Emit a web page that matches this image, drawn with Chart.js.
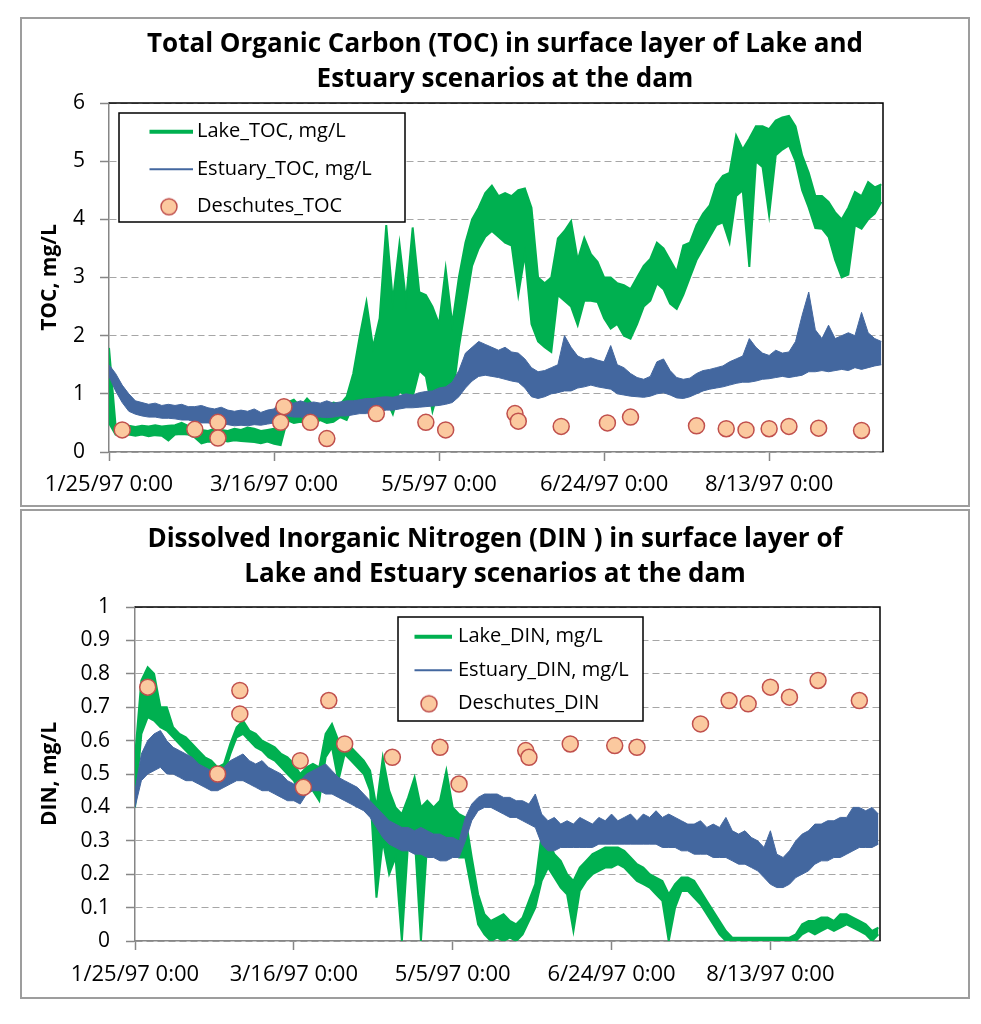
<!DOCTYPE html>
<html>
<head>
<meta charset="utf-8">
<title>TOC and DIN at the dam</title>
<script src="https://cdn.jsdelivr.net/npm/chart.js@4.4.1/dist/chart.umd.min.js"></script>
<style>
  body { margin: 0; background: #fff; }
  .frame { position: absolute; left: 20px; width: 950px; height: 490px; box-sizing: border-box; border: 2px solid #9d9d9d; }
  canvas { display: block; }
</style>
</head>
<body>
<div class="frame" style="top:17px"><canvas id="tocChart" width="946" height="486"></canvas></div>
<div class="frame" style="top:509px"><canvas id="dinChart" width="946" height="486"></canvas></div>
<script>
// model output every 2 days, day 0 = 1/25/97 0:00
// each model series is kept as a low / high envelope of the tidal noise
const stepDays = 2;
const lastDay = 234.5;
const tickDays = [0, 50, 100, 150, 200];
const tickLabels = ['1/25/97 0:00', '3/16/97 0:00', '5/5/97 0:00', '6/24/97 0:00', '8/13/97 0:00'];

// --- TOC, mg/L ---
const lakeTocLo = [
  0.50, 0.30, 0.28, 0.30, 0.28, 0.30, 0.27, 0.29, 0.28, 0.20,
  0.30, 0.31, 0.30, 0.25, 0.15, 0.18, 0.17, 0.20, 0.18, 0.20,
  0.19, 0.18, 0.17, 0.15, 0.18, 0.14, 0.12, 0.55, 0.50, 0.52,
  0.50, 0.48, 0.55, 0.50, 0.52, 0.60, 0.55, 0.80, 0.85, 0.85,
  0.60, 0.75, 0.90, 0.65, 1.05, 0.95, 0.95, 1.40, 1.30, 0.70,
  1.10, 1.06, 0.90, 1.80, 2.50, 3.20, 3.50, 3.70, 3.80, 3.70,
  3.60, 3.55, 2.70, 3.40, 2.20, 1.90, 1.80, 1.72, 2.70, 2.60,
  2.50, 2.18, 2.60, 2.60, 2.58, 2.30, 2.12, 2.20, 2.00, 1.95,
  2.20, 2.50, 2.60, 2.90, 2.80, 2.55, 2.46, 2.70, 3.00, 3.30,
  3.50, 3.70, 3.90, 3.95, 3.60, 4.40, 4.50, 3.18, 5.00, 4.90,
  4.07, 5.10, 5.20, 5.27, 5.00, 4.50, 4.20, 3.85, 3.84, 3.70,
  3.30, 3.00, 3.05, 3.90, 3.84, 4.00, 4.10, 4.30
];
const lakeTocHi = [
  1.79, 0.45, 0.44, 0.45, 0.43, 0.45, 0.44, 0.46, 0.44, 0.45,
  0.46, 0.50, 0.45, 0.42, 0.38, 0.36, 0.40, 0.38, 0.36, 0.40,
  0.38, 0.42, 0.40, 0.36, 0.38, 0.40, 0.55, 0.85, 0.90, 0.78,
  0.92, 0.80, 0.80, 0.78, 0.85, 0.82, 0.95, 1.35, 2.00, 2.58,
  1.80, 2.30, 3.90, 2.60, 3.58, 2.60, 3.86, 2.75, 2.70, 2.50,
  2.20, 3.15, 2.20, 3.00, 3.60, 4.00, 4.20, 4.45, 4.58, 4.40,
  4.45, 4.40, 4.50, 4.53, 4.20, 3.00, 2.90, 3.00, 3.67, 3.80,
  3.97, 3.30, 3.68, 3.40, 3.27, 3.00, 3.00, 2.90, 2.87, 2.80,
  3.00, 3.20, 3.32, 3.60, 3.50, 3.30, 3.10, 3.55, 3.60, 3.90,
  4.10, 4.24, 4.60, 4.75, 4.80, 5.44, 5.20, 5.39, 5.60, 5.60,
  5.55, 5.70, 5.75, 5.78, 5.60, 5.10, 4.80, 4.40, 4.40, 4.30,
  4.12, 4.00, 4.20, 4.47, 4.40, 4.64, 4.55, 4.60
];
const estTocLo = [
  1.30, 1.05, 0.85, 0.70, 0.65, 0.62, 0.60, 0.60, 0.58, 0.58,
  0.57, 0.55, 0.55, 0.52, 0.50, 0.50, 0.48, 0.48, 0.47, 0.45,
  0.46, 0.45, 0.47, 0.46, 0.48, 0.50, 0.55, 0.62, 0.60, 0.60,
  0.58, 0.60, 0.60, 0.59, 0.60, 0.62, 0.62, 0.64, 0.66, 0.66,
  0.70, 0.70, 0.72, 0.72, 0.74, 0.76, 0.76, 0.77, 0.78, 0.79,
  0.80, 0.82, 0.85, 0.95, 1.10, 1.22, 1.30, 1.32, 1.30, 1.28,
  1.25, 1.22, 1.20, 1.10, 0.95, 0.92, 0.95, 1.00, 1.02, 1.05,
  1.05, 1.10, 1.12, 1.15, 1.12, 1.10, 1.08, 1.00, 0.98, 0.96,
  0.95, 0.94, 0.96, 1.00, 1.02, 0.98, 0.93, 0.92, 0.95, 1.00,
  1.05, 1.08, 1.10, 1.12, 1.15, 1.18, 1.20, 1.20, 1.22, 1.25,
  1.26, 1.28, 1.30, 1.28, 1.30, 1.32, 1.38, 1.38, 1.40, 1.38,
  1.40, 1.42, 1.40, 1.45, 1.42, 1.45, 1.48, 1.50
];
const estTocHi = [
  1.50, 1.35, 1.15, 1.00, 0.88, 0.85, 0.82, 0.84, 0.80, 0.82,
  0.80, 0.82, 0.78, 0.78, 0.80, 0.76, 0.74, 0.77, 0.72, 0.70,
  0.72, 0.70, 0.74, 0.68, 0.72, 0.74, 0.88, 0.86, 0.84, 0.88,
  0.84, 0.86, 0.84, 0.88, 0.84, 0.86, 0.88, 0.88, 0.90, 0.92,
  0.92, 0.94, 0.95, 0.94, 0.97, 1.00, 0.98, 1.02, 1.04, 1.05,
  1.10, 1.12, 1.20, 1.40, 1.70, 1.80, 1.90, 1.85, 1.80, 1.75,
  1.80, 1.72, 1.70, 1.60, 1.45, 1.38, 1.40, 1.45, 1.50, 2.00,
  1.80, 1.65, 1.60, 1.62, 1.58, 1.55, 1.83, 1.50, 1.45, 1.35,
  1.28, 1.25, 1.30, 1.55, 1.60, 1.40, 1.28, 1.25, 1.27, 1.35,
  1.40, 1.42, 1.45, 1.48, 1.55, 1.60, 1.65, 1.95, 1.80, 1.70,
  1.66, 1.75, 1.70, 1.72, 1.90, 2.35, 2.75, 2.10, 1.95, 2.18,
  1.95, 2.00, 2.05, 2.00, 2.40, 2.05, 1.95, 1.90
];

// --- DIN, mg/L ---
const lakeDinLo = [
  0.40, 0.62, 0.67, 0.66, 0.64, 0.63, 0.61, 0.59, 0.57, 0.55,
  0.53, 0.52, 0.50, 0.49, 0.50, 0.56, 0.61, 0.62, 0.60, 0.58,
  0.57, 0.55, 0.54, 0.52, 0.50, 0.48, 0.44, 0.46, 0.45, 0.42,
  0.55, 0.58, 0.48, 0.56, 0.54, 0.52, 0.50, 0.45, 0.13, 0.30,
  0.20, 0.25, 0.00, 0.30, 0.32, 0.00, 0.30, 0.32, 0.30, 0.28,
  0.30, 0.25, 0.25, 0.15, 0.05, 0.02, 0.00, 0.01, 0.00, 0.01,
  0.00, 0.02, 0.06, 0.10, 0.18, 0.22, 0.19, 0.16, 0.14, 0.03,
  0.15, 0.18, 0.20, 0.21, 0.22, 0.22, 0.23, 0.22, 0.20, 0.18,
  0.17, 0.16, 0.14, 0.12, 0.00, 0.10, 0.15, 0.15, 0.13, 0.11,
  0.08, 0.05, 0.02, 0.00, 0.00, 0.00, 0.00, 0.00, 0.00, 0.00,
  0.00, 0.00, 0.00, 0.00, 0.00, 0.02, 0.03, 0.02, 0.03, 0.04,
  0.03, 0.04, 0.05, 0.04, 0.03, 0.02, 0.00, 0.02
];
const lakeDinHi = [
  0.55, 0.78, 0.82, 0.80, 0.70, 0.70, 0.64, 0.62, 0.61, 0.59,
  0.57, 0.55, 0.54, 0.52, 0.53, 0.59, 0.64, 0.66, 0.63, 0.62,
  0.60, 0.59, 0.58, 0.56, 0.55, 0.53, 0.50, 0.52, 0.53, 0.52,
  0.62, 0.65, 0.60, 0.59, 0.58, 0.56, 0.54, 0.51, 0.40, 0.55,
  0.45, 0.40, 0.38, 0.43, 0.49, 0.40, 0.42, 0.40, 0.42, 0.51,
  0.40, 0.38, 0.37, 0.25, 0.14, 0.08, 0.06, 0.07, 0.08, 0.06,
  0.05, 0.07, 0.12, 0.17, 0.32, 0.30, 0.26, 0.24, 0.20, 0.18,
  0.22, 0.24, 0.26, 0.27, 0.28, 0.28, 0.28, 0.27, 0.25, 0.23,
  0.22, 0.20, 0.19, 0.18, 0.14, 0.17, 0.19, 0.19, 0.18, 0.15,
  0.12, 0.09, 0.06, 0.03, 0.01, 0.01, 0.01, 0.01, 0.01, 0.01,
  0.01, 0.01, 0.01, 0.01, 0.02, 0.05, 0.06, 0.06, 0.07, 0.07,
  0.06, 0.08, 0.08, 0.07, 0.06, 0.05, 0.03, 0.04
];
const estDinLo = [
  0.40, 0.48, 0.50, 0.51, 0.52, 0.50, 0.50, 0.49, 0.48, 0.48,
  0.47, 0.46, 0.45, 0.45, 0.46, 0.47, 0.48, 0.48, 0.47, 0.46,
  0.45, 0.45, 0.44, 0.43, 0.42, 0.42, 0.41, 0.44, 0.45, 0.45,
  0.44, 0.44, 0.43, 0.42, 0.41, 0.40, 0.39, 0.37, 0.34, 0.31,
  0.29, 0.28, 0.27, 0.27, 0.26, 0.26, 0.25, 0.25, 0.24, 0.24,
  0.25, 0.25, 0.30, 0.36, 0.39, 0.40, 0.40, 0.39, 0.38, 0.37,
  0.37, 0.36, 0.35, 0.34, 0.29, 0.27, 0.27, 0.28, 0.28, 0.28,
  0.28, 0.28, 0.28, 0.29, 0.29, 0.29, 0.29, 0.29, 0.29, 0.29,
  0.29, 0.29, 0.29, 0.28, 0.28, 0.28, 0.27, 0.27, 0.26, 0.26,
  0.26, 0.25, 0.25, 0.25, 0.24, 0.23, 0.23, 0.22, 0.21, 0.19,
  0.17, 0.16, 0.16, 0.17, 0.19, 0.20, 0.21, 0.23, 0.24, 0.24,
  0.25, 0.25, 0.26, 0.27, 0.28, 0.28, 0.28, 0.29
];
const estDinHi = [
  0.45, 0.56, 0.60, 0.62, 0.63, 0.60, 0.58, 0.57, 0.56, 0.55,
  0.53, 0.52, 0.51, 0.50, 0.52, 0.54, 0.55, 0.56, 0.54, 0.53,
  0.54, 0.52, 0.51, 0.50, 0.48, 0.47, 0.48, 0.50, 0.51, 0.52,
  0.53, 0.51, 0.49, 0.48, 0.47, 0.46, 0.44, 0.42, 0.40, 0.38,
  0.36, 0.35, 0.34, 0.34, 0.33, 0.34, 0.33, 0.32, 0.32, 0.31,
  0.31, 0.30, 0.37, 0.41, 0.43, 0.44, 0.44, 0.44, 0.43, 0.43,
  0.42, 0.42, 0.41, 0.44, 0.38, 0.36, 0.37, 0.35, 0.36, 0.35,
  0.37, 0.36, 0.35, 0.37, 0.36, 0.38, 0.36, 0.37, 0.38, 0.36,
  0.38, 0.37, 0.39, 0.37, 0.38, 0.37, 0.36, 0.35, 0.35, 0.36,
  0.34, 0.35, 0.34, 0.37, 0.33, 0.32, 0.33, 0.31, 0.30, 0.28,
  0.33, 0.26, 0.25, 0.27, 0.30, 0.32, 0.33, 0.35, 0.35, 0.36,
  0.36, 0.37, 0.37, 0.40, 0.40, 0.39, 0.40, 0.38
];

// Deschutes samples (same sampling days for both parameters)
const obsDays = [4, 26, 33, 33, 52, 53, 61, 66, 81, 96, 102, 123, 124, 137, 151, 158, 178, 187, 193, 200, 206, 215, 228];
const obsToc = [0.38, 0.39, 0.51, 0.24, 0.51, 0.78, 0.51, 0.23, 0.66, 0.51, 0.38, 0.66, 0.53, 0.44, 0.50, 0.60, 0.45, 0.40, 0.38, 0.40, 0.44, 0.41, 0.37];
const obsDin = [0.76, 0.50, 0.75, 0.68, 0.54, 0.46, 0.72, 0.59, 0.55, 0.58, 0.47, 0.57, 0.55, 0.59, 0.585, 0.58, 0.65, 0.72, 0.71, 0.76, 0.73, 0.78, 0.72];

const GREEN = '#00b050';
const BLUE = '#43679f';
const DOT_FILL = '#fbc99f';
const DOT_EDGE = '#c0504d';

Chart.defaults.font.family = "'Open Sans', sans-serif";
Chart.defaults.color = '#000';

function toXY(values) {
  return values.map((v, i) => ({ x: i * stepDays, y: v }));
}

// little canvases used as legend symbols
function lineSwatch(color, thick, w, len) {
  const c = document.createElement('canvas');
  c.width = w; c.height = 8;
  const g = c.getContext('2d');
  g.strokeStyle = color; g.lineWidth = thick;
  g.beginPath(); g.moveTo(0, 4); g.lineTo(len, 4); g.stroke();
  return c;
}
function dotSwatch(w, cx) {
  const c = document.createElement('canvas');
  c.width = w; c.height = 20;
  const g = c.getContext('2d');
  g.fillStyle = DOT_FILL; g.strokeStyle = DOT_EDGE; g.lineWidth = 1.5;
  g.beginPath(); g.arc(cx, 10, 8, 0, Math.PI * 2); g.fill(); g.stroke();
  return c;
}

// black top/right edge of the plot area
const plotFrame = {
  id: 'plotFrame',
  beforeDatasetsDraw(chart) {
    const { ctx, chartArea: a } = chart;
    ctx.save();
    ctx.strokeStyle = '#000';
    ctx.lineWidth = 1.5;
    ctx.beginPath();
    ctx.moveTo(a.left, a.top);
    ctx.lineTo(a.right, a.top);
    ctx.lineTo(a.right, a.bottom);
    ctx.stroke();
    ctx.restore();
  }
};

// put the legend inside the plot, on a white boxed background above the lines
const legendFrame = {
  id: 'legendFrame',
  beforeDraw(chart, args, o) {
    const lg = chart.legend;
    lg.left = o.legendX; lg.top = o.legendY;
    lg.right = o.legendX + 400; lg.bottom = o.legendY + 300;
  },
  afterDraw(chart, args, o) {
    const ctx = chart.ctx;
    ctx.save();
    ctx.fillStyle = '#fff';
    ctx.fillRect(o.boxX, o.boxY, o.boxW, o.boxH);
    ctx.strokeStyle = '#000';
    ctx.lineWidth = 1.5;
    ctx.strokeRect(o.boxX, o.boxY, o.boxW, o.boxH);
    ctx.restore();
    chart.legend.draw();
  }
};

function buildChart(id, s) {
  const symbols = [
    lineSwatch(GREEN, 4, s.swW, s.swLen),
    lineSwatch(BLUE, 2, s.swW, s.swLen),
    dotSwatch(40, s.dotX)
  ];
  const colors = [GREEN, BLUE, DOT_EDGE];
  return new Chart(document.getElementById(id), {
    type: 'line',
    data: {
      datasets: [
        { label: s.names[0], data: toXY(s.lakeLo), borderColor: GREEN, borderWidth: 2, pointRadius: 0, fill: false, order: 3 },
        { label: s.names[0], data: toXY(s.lakeHi), borderColor: GREEN, backgroundColor: GREEN, borderWidth: 2, pointRadius: 0, fill: '-1', order: 3 },
        { label: s.names[1], data: toXY(s.estLo), borderColor: BLUE, borderWidth: 1, pointRadius: 0, fill: false, order: 2 },
        { label: s.names[1], data: toXY(s.estHi), borderColor: BLUE, backgroundColor: BLUE, borderWidth: 1, pointRadius: 0, fill: '-1', order: 2 },
        {
          label: s.names[2],
          data: obsDays.map((d, i) => ({ x: d, y: s.obs[i] })),
          showLine: false, pointRadius: 8, pointBackgroundColor: DOT_FILL,
          pointBorderColor: DOT_EDGE, pointBorderWidth: 1.5, order: 1
        }
      ]
    },
    options: {
      responsive: false,
      animation: false,
      events: [],
      layout: { padding: { left: s.padLeft, right: 0, top: 0, bottom: 0 } },
      plugins: {
        title: {
          display: true,
          text: s.title,
          color: '#000',
          font: { size: 26, weight: 'bold', lineHeight: '35px' },
          padding: { top: s.titleTop, bottom: s.titleBottom }
        },
        legend: {
          position: 'chartArea',
          align: 'start',
          labels: {
            usePointStyle: true,
            color: '#000',
            font: { size: 20 },
            padding: s.legendGap,
            generateLabels: () => s.names.map((name, i) => ({
              text: name, pointStyle: symbols[i], fillStyle: colors[i], strokeStyle: colors[i],
              lineWidth: 0, hidden: false, datasetIndex: [1, 3, 4][i], fontColor: '#000'
            }))
          }
        },
        tooltip: { enabled: false },
        legendFrame: s.legendBox
      },
      scales: {
        x: {
          type: 'linear',
          min: 0,
          max: lastDay,
          afterBuildTicks: (sc) => { sc.ticks = tickDays.map((v) => ({ value: v })); },
          afterFit: (sc) => { sc.height = s.xAxisH; },
          ticks: {
            callback: (v) => tickLabels[tickDays.indexOf(v)],
            font: { size: 22 }, color: '#000', padding: s.xTickPad,
            maxRotation: 0, autoSkip: false
          },
          grid: { drawOnChartArea: false, tickLength: 9, tickColor: '#868686', tickWidth: 1.5 },
          border: { color: '#868686', width: 1.5 }
        },
        y: {
          min: 0,
          max: s.yMax,
          afterFit: (sc) => { sc.width = s.yAxisW; },
          ticks: {
            stepSize: s.yStep,
            callback: (v) => String(Math.round(v * 10) / 10),
            font: { size: 21 }, color: '#000', padding: s.yTickPad
          },
          grid: { color: '#a6a6a6', lineWidth: 1, tickLength: 9, tickColor: '#868686', tickWidth: 1.5, tickBorderDash: [] },
          border: { color: '#868686', width: 1.5, dash: [7, 4] },
          title: {
            display: true, text: s.yTitle, color: '#000',
            font: { size: 21, weight: 'bold' }, padding: { top: s.yTitlePad, bottom: 0 }
          }
        },
        // empty right-hand axis: keeps the blank margin right of the plot
        // without moving the centred title
        spacer: {
          position: 'right',
          grid: { display: false, drawTicks: false },
          ticks: { display: false },
          border: { display: false },
          afterFit: (sc) => { sc.width = s.rightGap; }
        }
      }
    },
    plugins: [plotFrame, legendFrame]
  });
}

buildChart('tocChart', {
  title: ['Total Organic Carbon (TOC) in surface layer of Lake and', 'Estuary scenarios at the dam'],
  names: ['Lake_TOC, mg/L', 'Estuary_TOC, mg/L', 'Deschutes_TOC'],
  yTitle: 'TOC, mg/L',
  lakeLo: lakeTocLo, lakeHi: lakeTocHi, estLo: estTocLo, estHi: estTocHi, obs: obsToc,
  yMax: 6, yStep: 1,
  titleTop: 8.5, titleBottom: 5.5, padLeft: 20, rightGap: 85,
  yAxisW: 67, yTitlePad: -5, yTickPad: 15, xAxisH: 53, xTickPad: 11,
  legendGap: 17.5, swW: 60, swLen: 46, dotX: 12,
  legendBox: { legendX: 127.5, legendY: 85.2, boxX: 97, boxY: 94, boxW: 286, boxH: 109 }
});

buildChart('dinChart', {
  title: ['Dissolved Inorganic Nitrogen (DIN ) in surface layer of', 'Lake and Estuary scenarios at the dam'],
  names: ['Lake_DIN, mg/L', 'Estuary_DIN, mg/L', 'Deschutes_DIN'],
  yTitle: 'DIN, mg/L',
  lakeLo: lakeDinLo, lakeHi: lakeDinHi, estLo: estDinLo, estHi: estDinHi, obs: obsDin,
  yMax: 1, yStep: 0.1,
  titleTop: 11, titleBottom: 15, padLeft: 0, rightGap: 88,
  yAxisW: 113, yTitlePad: 15, yTickPad: 16, xAxisH: 56, xTickPad: 12,
  legendGap: 13.5, swW: 70, swLen: 49, dotX: 11,
  legendBox: { legendX: 392.5, legendY: 102.2, boxX: 376, boxY: 106, boxW: 245, boxH: 104 }
});
</script>
</body>
</html>
